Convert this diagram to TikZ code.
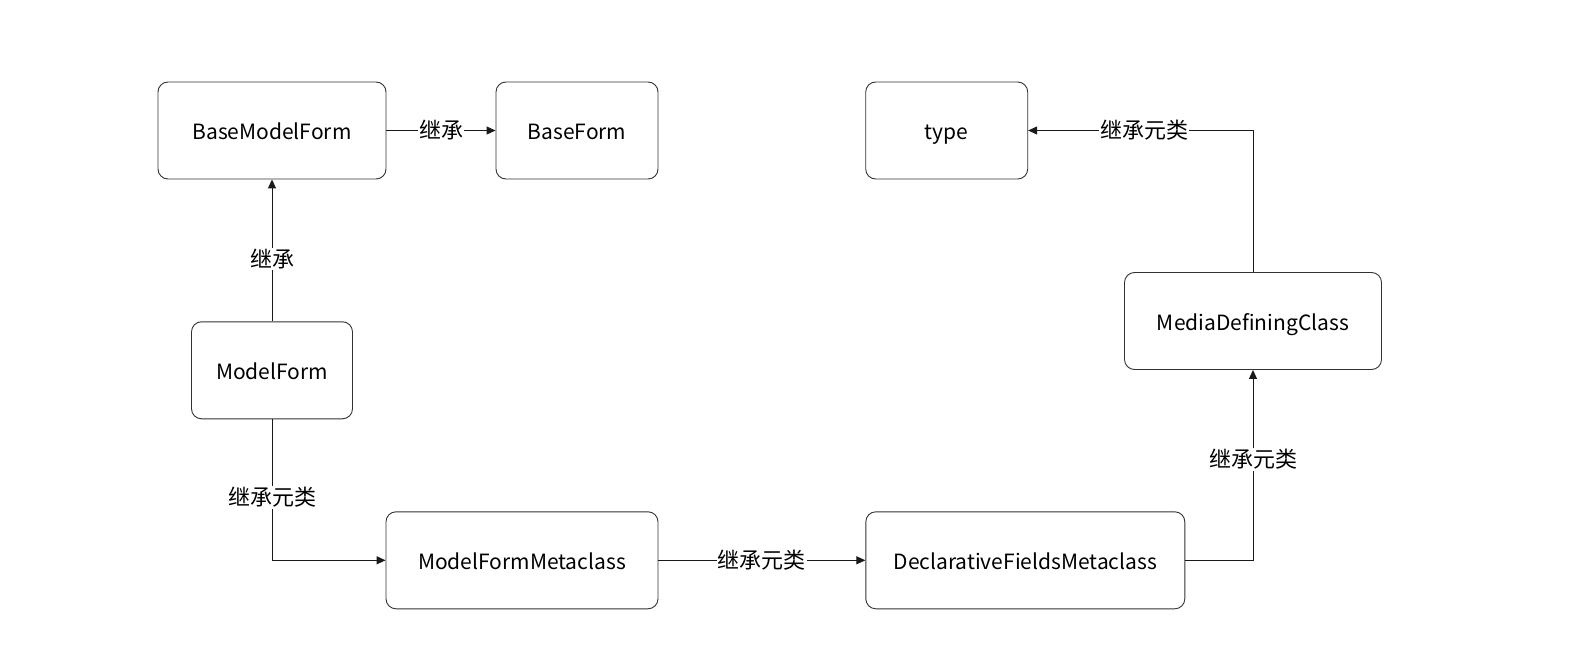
\documentclass[tikz,border=0pt]{standalone}
\usepackage{fontspec}
\setmainfont{Noto Sans CJK SC}
\usetikzlibrary{arrows.meta}
\definecolor{edge}{HTML}{1A1A1A}
\definecolor{boxline}{HTML}{333333}
\tikzset{
  box/.style={draw=boxline, line width=0.9pt, rounded corners=10pt, minimum height=97pt, inner sep=0pt, text height=20pt, text depth=2pt, font=\fontsize{21}{24}\selectfont, text=black},
  conn/.style={draw=edge, line width=1pt, -{Triangle[length=9pt,width=8pt]}},
  lbl/.style={fill=white, inner sep=1pt, font=\fontsize{22}{24}\selectfont, text=black},
}
\begin{document}
\begin{tikzpicture}[x=1pt,y=-1pt]
\useasboundingbox (0,0) rectangle (1580,666);
\fill[white] (0,0) rectangle (1580,666);
\node[box, minimum width=228pt] (bmf) at (272,130.5) {BaseModelForm};
\node[box, minimum width=162pt] (bf) at (577,130.5) {BaseForm};
\node[box, minimum width=162pt] (type) at (946.7,130.5) {type};
\node[box, minimum width=257pt] (mdc) at (1253,321) {MediaDefiningClass};
\node[box, minimum width=161pt] (mf) at (272,370.3) {ModelForm};
\node[box, minimum width=272pt] (mfm) at (522,560.3) {ModelFormMetaclass};
\node[box, minimum width=319pt] (dfm) at (1025.3,560.3) {DeclarativeFieldsMetaclass};

\draw[conn] (bmf.east) -- node[lbl] (l1) {继承} (bf.west);
\draw[conn] (mf.north) -- node[lbl, pos=0.44] (l2) {继承} (bmf.south);
\draw[conn] (mf.south) |- node[lbl, pos=0.277] (l3) {继承元类} (mfm.west);
\draw[conn] (mfm.east) -- node[lbl] (l4) {继承元类} (dfm.west);
\draw[conn] (dfm.east) -| node[lbl, pos=0.765] (l5) {继承元类} (mdc.south);
\draw[conn] (mdc.north) |- node[lbl, pos=0.742] (l6) {继承元类} (type.east);
\end{tikzpicture}
\end{document}
